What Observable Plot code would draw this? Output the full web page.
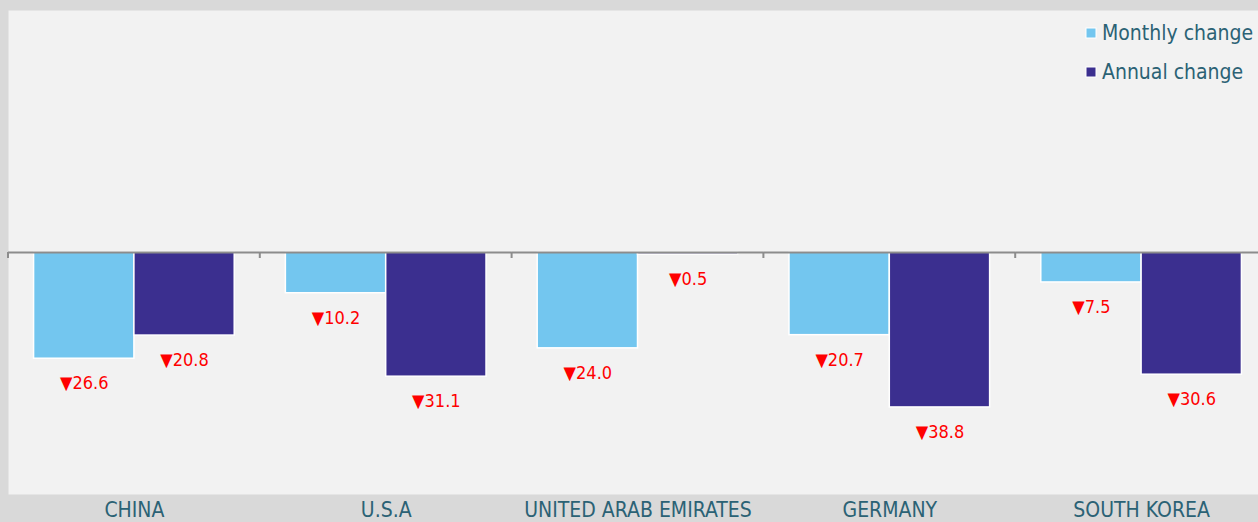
<!DOCTYPE html>
<html><head><meta charset="utf-8">
<script src="https://cdn.jsdelivr.net/npm/d3@7"></script>
<script src="https://cdn.jsdelivr.net/npm/@observablehq/plot@0.6"></script>
<style>
html,body{margin:0;padding:0;background:#d9d9d9;}
#chart{width:1258px;height:522px;overflow:hidden;position:relative;}
#chart svg{max-width:none !important;}
</style></head><body><div id="chart"></div>
<script>
const countries = ["CHINA", "U.S.A", "UNITED ARAB EMIRATES", "GERMANY", "SOUTH KOREA"];
const monthly = [-26.6, -10.2, -24.0, -20.7, -7.5];
const annual = [-20.8, -31.1, -0.5, -38.8, -30.6];
const seriesNames = ["Monthly change", "Annual change"];
const seriesColors = ["#73c6ef", "#3b2f8f"];

const data = countries.flatMap((c, i) => [
  {country: c, series: seriesNames[0], value: monthly[i]},
  {country: c, series: seriesNames[1], value: annual[i]}
]);

const textColor = "#2b6275";

const decorations = Plot.frame({
  facet: "super",
  stroke: "none",
  render: (index, scales, values, dims) => {
    const g = d3.create("svg:g");
    const fx = scales.fx;
    const y = scales.y;
    const y0 = y(0);
    let edges;
    if (fx && fx.bandwidth) {
      const bw = fx.bandwidth();
      edges = countries.map(c => fx(c)).concat([fx(countries[countries.length - 1]) + bw]);
    } else {
      const step = (dims.width - dims.marginLeft - dims.marginRight) / countries.length;
      edges = d3.range(countries.length + 1).map(i => dims.marginLeft + i * step);
    }
    g.selectAll("line").data(edges).join("line")
      .attr("x1", d => d).attr("x2", d => d)
      .attr("y1", y0).attr("y2", y0 + 6)
      .attr("stroke", "#8c8c8c").attr("stroke-width", 2);
    // legend
    const lg = g.append("g").attr("text-anchor", "start");
    seriesNames.forEach((s, i) => {
      const cy = 33 + i * 39;
      lg.append("rect").attr("x", 1086).attr("y", cy - 5).attr("width", 10).attr("height", 10)
        .attr("fill", seriesColors[i]).attr("stroke", "white").attr("stroke-width", 1);
      lg.append("text").attr("x", 1102).attr("y", cy).attr("dy", "0.35em")
        .attr("text-anchor", "start")
        .attr("fill", textColor).attr("font-size", 21)
        .attr("font-family", "DejaVu Sans Condensed").text(s);
    });
    return g.node();
  }
});

const chart = Plot.plot({
  width: 1267,
  height: 522,
  marginLeft: 8,
  marginRight: 0,
  marginTop: 10,
  marginBottom: 28,
  style: {background: "#d9d9d9", fontFamily: "DejaVu Sans Condensed", color: textColor, overflow: "visible", maxWidth: "none"},
  fx: {domain: countries, padding: 0, round: false, label: null},
  x: {domain: seriesNames, axis: null, paddingInner: 0, paddingOuter: 0.255, round: false},
  y: {domain: [-60.6, 60.6], axis: null},
  color: {domain: seriesNames, range: seriesColors},
  marks: [
    Plot.frame({facet: "super", fill: "#f2f2f2", stroke: "none"}),
    Plot.barY(data, {fx: "country", x: "series", y: "value", fill: "series", stroke: "white", strokeWidth: 1.5}),
    Plot.ruleY([0], {stroke: "#8c8c8c", strokeWidth: 2}),
    Plot.text(data, {
      fx: "country", x: "series", y: "value",
      text: d => "\u25BC" + Math.abs(d.value).toFixed(1),
      dy: 25, fill: "#ff0000", fontSize: 18, fontFamily: "DejaVu Sans Condensed"
    }),
    Plot.axisFx({anchor: "bottom", tickSize: 0, tickPadding: 8, fontSize: 21, label: null, fill: textColor}),
    decorations
  ]
});
document.getElementById("chart").appendChild(chart);
</script></body></html>
